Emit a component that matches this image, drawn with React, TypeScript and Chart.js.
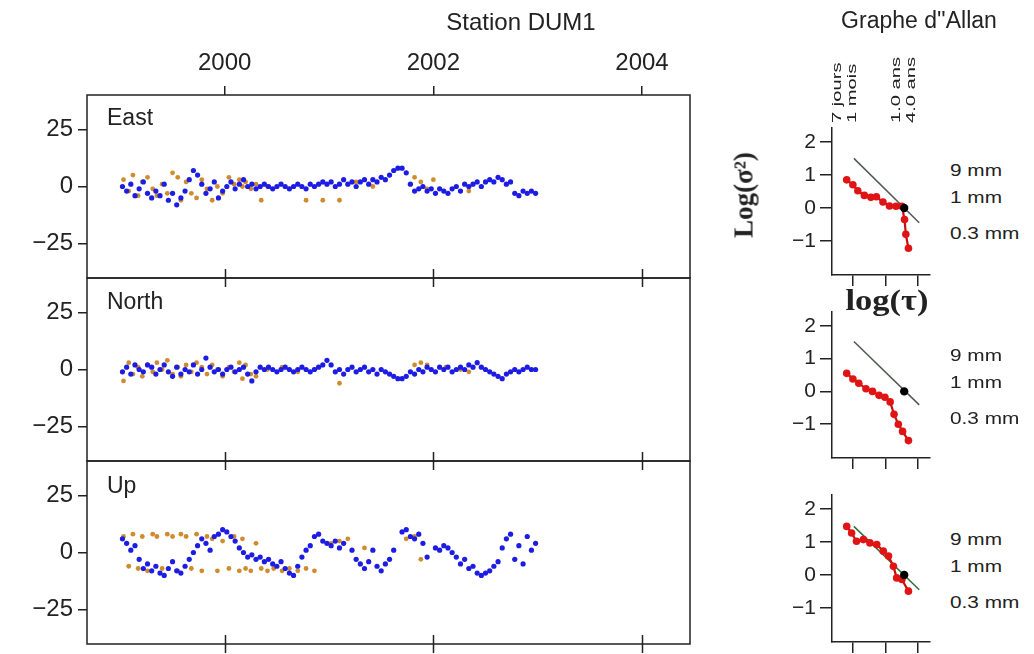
import React, { useEffect, useRef } from 'react';
import { Chart, registerables } from 'chart.js';

Chart.register(...registerables);

// ---------- Time series data (years, mm) ----------
const blueYears = [
  1999.02, 1999.06, 1999.10, 1999.14, 1999.18, 1999.22, 1999.26, 1999.30, 1999.34, 1999.38,
  1999.42, 1999.46, 1999.50, 1999.54, 1999.58, 1999.62, 1999.66, 1999.70, 1999.74, 1999.78,
  1999.82, 1999.86, 1999.90, 1999.94, 1999.98, 2000.02, 2000.06, 2000.10, 2000.14, 2000.18,
  2000.22, 2000.26, 2000.30, 2000.34, 2000.38, 2000.42, 2000.46, 2000.50, 2000.54, 2000.58,
  2000.62, 2000.66, 2000.70, 2000.74, 2000.78, 2000.82, 2000.86, 2000.90, 2000.94, 2000.98,
  2001.02, 2001.06, 2001.10, 2001.14, 2001.18, 2001.22, 2001.26, 2001.30, 2001.34, 2001.38,
  2001.42, 2001.46, 2001.50, 2001.54, 2001.58, 2001.62, 2001.66, 2001.70, 2001.74, 2001.78,
  2001.82, 2001.86, 2001.90, 2001.94, 2001.98, 2002.02, 2002.06, 2002.10, 2002.14, 2002.18,
  2002.22, 2002.26, 2002.30, 2002.34, 2002.38, 2002.42, 2002.46, 2002.50, 2002.54, 2002.58,
  2002.62, 2002.66, 2002.70, 2002.74, 2002.78, 2002.82, 2002.86, 2002.90, 2002.94, 2002.98,
];

const eastBlue = [
  0, -2, 1, -4, -1, 2, -3, -5, -2, -4,
  1, -6, -3, -8, -5, -2, 3, 7, 5, 1,
  -3, -1, 2, -5, -2, 0, 2, -1, 1, 3,
  0, 1, -1, 0, 1, 0, -1, 0, 1, 0,
  -1, 0, 1, 0, -1, 1, 0, 1, 2, 1,
  2, 0, 1, 3, 1, 2, 0, 2, 3, 1,
  3, 2, 4, 3, 5, 7, 8, 8, 6, 1,
  -2, -1, 0, -2, -1, -3, -1, -2, -3, -1,
  0, -2, 1, 0, 1, 2, 0, 2, 3, 2,
  4, 3, 1, 2, -3, -4, -2, -3, -2, -3,
];

const northBlue = [
  -1, 1, -2, 2, 0, -1, 2, 1, -2, 0,
  2, -1, -3, 1, -2, 0, -1, 2, -2, 0,
  5, 1, -1, 0, -2, 0, 1, -1, 0, 1,
  -2, -5, -1, 1, 0, 1, 0, -1, 0, 1,
  0, -1, 0, 1, 0, -1, 0, 1, 2, 4,
  2, -1, 0, -2, 0, 1, -1, 0, 1, -1,
  0, -2, 0, -1, -2, -3, -4, -4, -3, -1,
  -2, 0, -1, 1, 0, -1, 1, 0, 1, -1,
  0, 1, 0, 2, 1, 3, 1, 0, -1, -2,
  -3, -4, -2, -1, 0, -1, 0, 1, 0, 0,
];

const upBlue = [
  6, 4, 1, 3, -3, -7, -5, -8, -6, -9,
  -10, -7, -4, -8, -9, -6, -3, 0, 3, 6,
  4, 1, 7, 8, 10, 9, 7, 5, 2, 0,
  -2, -1, -3, -2, -4, -3, -5, -6, -4, -7,
  -9, -10, -6, -2, 1, 3, 7, 8, 5, 4,
  3, 5, 2, 4, null, 1, -3, -5, -7, -4,
  1, -6, -8, -5, -3, 1, null, 9, 10, 7,
  6, 8, 4, -2, null, 2, 1, 3, 2, 0,
  -2, -5, -3, -7, -6, -9, -10, -9, -8, -6,
  -4, 2, 6, 8, -3, 3, -5, 7, 1, 4,
];

const orangeYears = [
  1999.03, 1999.08, 1999.12, 1999.17, 1999.21, 1999.26, 1999.31, 1999.35, 1999.40, 1999.45,
  1999.50, 1999.55, 1999.58, 1999.63, 1999.68, 1999.73, 1999.78, 1999.83, 1999.88, 1999.93,
  1999.98, 2000.04, 2000.09, 2000.14, 2000.17, 2000.20, 2000.25, 2000.30, 2000.35, 2000.41,
  2000.47, 2000.55, 2000.62, 2000.70, 2000.78, 2000.86, 2000.94, 2001.02, 2001.10, 2001.18,
  2001.26, 2001.34, 2001.42, 2001.50, 2001.58, 2001.66, 2001.74, 2001.82, 2001.88, 2001.94,
  2002.00, 2002.06, 2002.12, 2002.18, 2002.26, 2002.34,
];

const eastOrange = [
  3, -2, 5, -4, 2, 4, -1, -4, 1, -3,
  6, 4, -6, 2, -3, -5, 3, -1, -6, 0,
  -3, 4, 1, 3, 0, 2, -1, 1, -6, 0,
  null, null, -1, null, -6, null, -6, null, -6, null,
  2, null, 0, null, null, null, null, 4, 2, -1,
  3, null, null, null, null, -2,
];

const northOrange = [
  -5, 3, -2, 1, -3, 2, -1, 3, 0, 4,
  -2, 1, -3, 2, -1, 3, 1, -2, 2, 0,
  -3, 1, -1, 3, -4, 2, -2, -3, null, 0,
  null, 1, null, -1, null, 0, null, null, -6, null,
  null, null, null, null, null, null, null, 2, 3, 2,
  null, null, 1, null, 0, -1,
];

const upOrange = [
  7, -6, 8, -7, 7, -8, 8, 7, -7, 8,
  7, -8, 8, 7, -7, 8, -8, 7, 6, -8,
  5, -7, 7, -8, 6, -7, -8, 4, -7, -8,
  -7, -8, -7, -8, -7, -8, null, 4, 5, 6,
  null, 2, null, null, null, null, 6, 7, -3, null,
  null, null, null, null, null, null,
];

const yearTicks = [2000, 2002, 2004];
const compTicks = [-25, 0, 25];

// ---------- Allan variance data (log tau, log sigma^2) ----------
const allanEastX = [0.81, 1.0, 1.15, 1.35, 1.55, 1.72, 1.92, 2.12, 2.32, 2.5, 2.58, 2.62, 2.7];
const allanEastY = [0.85, 0.7, 0.52, 0.38, 0.32, 0.34, 0.18, 0.06, 0.05, 0.05, -0.35, -0.8, -1.22];
const allanNorthX = [0.81, 1.0, 1.18, 1.4, 1.6, 1.8, 1.98, 2.14, 2.26, 2.39, 2.52, 2.7];
const allanNorthY = [0.55, 0.38, 0.25, 0.08, 0.0, -0.12, -0.18, -0.32, -0.7, -1.0, -1.22, -1.5];
const allanUpX = [0.81, 0.96, 1.11, 1.32, 1.52, 1.73, 1.93, 2.09, 2.24, 2.34, 2.5, 2.7];
const allanUpY = [1.47, 1.27, 1.02, 1.07, 0.97, 0.92, 0.72, 0.57, 0.26, -0.09, -0.14, -0.49];
const refLineX = [1.03, 3.03];
const refLineEastY = [1.5, -0.45];
const refLineNorthY = [1.52, -0.41];
const refLineUpY = [1.47, -0.45];
const refDotX = [2.57];
const refDotY = [0];
const allanYTicks = [-1, 0, 1, 2];
const allanXTicks = [1, 2, 3];
const allanTopLabels = ['7 jours', '1 mois', '1.0 ans', '4.0 ans'];
const allanTopPos = [0.52, 0.97, 2.32, 2.8];
const noiseLabels = ['9 mm', '1 mm', '0.3 mm'];

// ---------- styling ----------
const BLUE = '#1c1ce4';
const ORANGE = '#cf8b2c';
const RED = '#e01414';
const INK = '#222222';
const SANS = '"Liberation Sans", Arial, sans-serif';
const SERIF = '"Liberation Serif", "Times New Roman", serif';

const pts = (xs: number[], ys: (number | null)[]) =>
  xs.map((x, i) => ({ x, y: ys[i] })).filter((p) => p.y !== null);

const minusFmt = (v: any) => (Number(v) < 0 ? '\u2212' + Math.abs(Number(v)) : String(v));

const rFrame = {
  id: 'rFrame',
  afterDatasetsDraw(chart: any, _args: any, opts: any) {
    const { ctx, chartArea: a, scales } = chart;
    ctx.save();
    ctx.strokeStyle = INK;
    ctx.lineWidth = 1.5;
    ctx.strokeRect(a.left, a.top, a.right - a.left, a.bottom - a.top);
    const len = 9;
    ctx.beginPath();
    for (const t of yearTicks) {
      const px = Math.round(scales.x.getPixelForValue(t)) + 0.5;
      if (opts.topIn) { ctx.moveTo(px, a.top); ctx.lineTo(px, a.top + len); }
      if (opts.bottomIn) { ctx.moveTo(px, a.bottom); ctx.lineTo(px, a.bottom - len); }
      if (opts.bottomOut) { ctx.moveTo(px, a.bottom); ctx.lineTo(px, a.bottom + len); }
    }
    ctx.stroke();
    ctx.restore();
  },
};

const topLabels = {
  id: 'topLabels',
  afterDraw(chart: any, _args: any, opts: any) {
    if (!opts || !opts.show) return;
    const { ctx, scales, chartArea } = chart;
    ctx.save();
    ctx.fillStyle = INK;
    ctx.font = `13px ${SANS}`;
    allanTopLabels.forEach((lab, i) => {
      const px = scales.x.getPixelForValue(allanTopPos[i]);
      ctx.save();
      ctx.translate(px, chartArea.top - 5);
      ctx.rotate(-Math.PI / 2);
      ctx.scale(1.55, 1);
      ctx.textAlign = 'left';
      ctx.textBaseline = 'middle';
      ctx.fillText(lab, 0, 0);
      ctx.restore();
    });
    ctx.restore();
  },
};

const noPadY = (w: number) => (s: any) => {
  s.width = w;
  s.paddingTop = 0;
  s.paddingBottom = 0;
};

function leftConfig(blueV: (number | null)[], orangeV: (number | null)[], o: any) {
  return {
    type: 'scatter',
    data: {
      datasets: [
        { data: pts(blueYears, blueV), backgroundColor: BLUE, pointRadius: 2.6, borderWidth: 0, pointBorderWidth: 0 },
        { data: pts(orangeYears, orangeV), backgroundColor: ORANGE, pointRadius: 2.4, borderWidth: 0, pointBorderWidth: 0 },
      ],
    },
    options: {
      animation: false,
      responsive: false,
      events: [],
      layout: { padding: { top: o.padTop, bottom: o.padBottom, right: 10, left: 0 } },
      plugins: {
        legend: { display: false },
        tooltip: { enabled: false },
        rFrame: { topIn: o.topIn, bottomIn: true, bottomOut: o.bottomOut },
      },
      scales: {
        x: {
          type: 'linear',
          position: 'top',
          min: 1998.68,
          max: 2004.46,
          display: o.showTop,
          afterBuildTicks: (s: any) => { s.ticks = yearTicks.map((v) => ({ value: v })); },
          afterFit: (s: any) => { s.height = o.showTop ? 95 : 0; s.paddingLeft = 0; s.paddingRight = 0; },
          ticks: { color: INK, font: { family: SANS, size: 24 }, padding: 8, maxRotation: 0, callback: (v: any) => String(v) },
          grid: { drawOnChartArea: false, drawTicks: true, tickLength: 9, color: INK, lineWidth: 1.5 },
          border: { display: false },
        },
        y: {
          type: 'linear',
          min: -40,
          max: 40,
          afterBuildTicks: (s: any) => { s.ticks = compTicks.map((v) => ({ value: v })); },
          afterFit: noPadY(87),
          ticks: { color: INK, font: { family: SANS, size: 24 }, padding: 5, callback: minusFmt },
          grid: { drawOnChartArea: false, drawTicks: true, tickLength: 9, color: INK, lineWidth: 1.5 },
          border: { display: false },
        },
      },
    },
    plugins: [rFrame],
  } as any;
}

function allanConfig(xs: number[], ys: number[], refY: number[], o: any) {
  return {
    type: 'scatter',
    data: {
      datasets: [
        { data: pts(refDotX, refDotY), backgroundColor: '#000', pointRadius: 4.2, borderWidth: 0 },
        { data: pts(xs, ys), showLine: true, borderColor: '#c41010', borderWidth: 2.2, backgroundColor: RED, pointRadius: 3.8, pointBorderWidth: 0 },
        { data: pts(refLineX, refY), showLine: true, borderColor: o.lineColor, borderWidth: 1.5, pointRadius: 0 },
      ],
    },
    options: {
      animation: false,
      responsive: false,
      events: [],
      layout: { padding: { top: o.padTop, bottom: 0, right: 10, left: 0 } },
      plugins: {
        legend: { display: false },
        tooltip: { enabled: false },
        topLabels: { show: o.showTop },
      },
      scales: {
        x: {
          type: 'linear',
          min: 0.36,
          max: 3.36,
          afterBuildTicks: (s: any) => { s.ticks = allanXTicks.map((v) => ({ value: v })); },
          afterFit: (s: any) => { s.height = o.xHeight; s.paddingLeft = 0; s.paddingRight = 0; },
          ticks: { display: false },
          grid: { drawOnChartArea: false, drawTicks: true, tickLength: 11, color: INK, lineWidth: 1.5 },
          border: { display: true, color: INK, width: 1.5 },
        },
        y: {
          type: 'linear',
          min: -2.03,
          max: 2.42,
          afterBuildTicks: (s: any) => { s.ticks = allanYTicks.map((v) => ({ value: v })); },
          afterFit: noPadY(132),
          ticks: { color: INK, font: { family: SANS, size: 21 }, padding: 4, callback: minusFmt },
          grid: { drawOnChartArea: false, drawTicks: true, tickLength: 12, color: INK, lineWidth: 1.5 },
          border: { display: true, color: INK, width: 1.5 },
        },
      },
    },
    plugins: [topLabels],
  } as any;
}

const abs = (left: number, top: number): React.CSSProperties => ({ position: 'absolute', left, top });

export default function App() {
  const r1 = useRef<HTMLCanvasElement>(null);
  const r2 = useRef<HTMLCanvasElement>(null);
  const r3 = useRef<HTMLCanvasElement>(null);
  const a1 = useRef<HTMLCanvasElement>(null);
  const a2 = useRef<HTMLCanvasElement>(null);
  const a3 = useRef<HTMLCanvasElement>(null);

  useEffect(() => {
    const charts = [
      new Chart(r1.current!, leftConfig(eastBlue, eastOrange, { padTop: 0, padBottom: 8, showTop: true, topIn: false, bottomOut: false })),
      new Chart(r2.current!, leftConfig(northBlue, northOrange, { padTop: 8, padBottom: 8, showTop: false, topIn: true, bottomOut: false })),
      new Chart(r3.current!, leftConfig(upBlue, upOrange, { padTop: 8, padBottom: 10, showTop: false, topIn: true, bottomOut: true })),
      new Chart(a1.current!, allanConfig(allanEastX, allanEastY, refLineEastY, { padTop: 88, xHeight: 15, showTop: true, lineColor: '#4f5a4f' })),
      new Chart(a2.current!, allanConfig(allanNorthX, allanNorthY, refLineNorthY, { padTop: 12, xHeight: 15, showTop: false, lineColor: '#4f5a4f' })),
      new Chart(a3.current!, allanConfig(allanUpX, allanUpY, refLineUpY, { padTop: 10, xHeight: 12, showTop: false, lineColor: '#2f6e3c' })),
    ];
    return () => charts.forEach((c) => c.destroy());
  }, []);

  const txt: React.CSSProperties = { fontFamily: SANS, color: INK, whiteSpace: 'nowrap', lineHeight: 1 };
  const compLabel = (label: string, cy: number) => (
    <div style={{ ...abs(107, cy - 12), ...txt, fontSize: 23 }}>{label}</div>
  );
  const noise = (zeroY: number) => (
    <>
      <div style={{ ...abs(950, zeroY - 37 - 8), ...txt, fontSize: 16, transform: 'scaleX(1.3)', transformOrigin: 'left center' }}>{noiseLabels[0]}</div>
      <div style={{ ...abs(950, zeroY - 10 - 8), ...txt, fontSize: 16, transform: 'scaleX(1.3)', transformOrigin: 'left center' }}>{noiseLabels[1]}</div>
      <div style={{ ...abs(950, zeroY + 26 - 8), ...txt, fontSize: 16, transform: 'scaleX(1.3)', transformOrigin: 'left center' }}>{noiseLabels[2]}</div>
    </>
  );

  return (
    <div style={{ position: 'fixed', left: 0, top: 0, width: 1034, height: 654, background: '#fff', overflow: 'hidden' }}>
      <canvas ref={r1} width={700} height={286} style={abs(0, 0)} />
      <canvas ref={r2} width={700} height={199} style={abs(0, 270)} />
      <canvas ref={r3} width={700} height={201} style={abs(0, 453)} />
      <canvas ref={a1} width={240} height={250} style={abs(700, 40)} />
      <canvas ref={a2} width={240} height={173} style={abs(700, 300)} />
      <canvas ref={a3} width={240} height={169} style={abs(700, 485)} />

      <div style={{ ...abs(521, 22), ...txt, fontSize: 24, transform: 'translate(-50%, -50%)' }}>Station DUM1</div>
      <div style={{ ...abs(919, 20), ...txt, fontSize: 23, transform: 'translate(-50%, -50%)' }}>Graphe d''Allan</div>
      {compLabel('East', 118)}
      {compLabel('North', 302)}
      {compLabel('Up', 486)}
      <div style={{ ...abs(744, 195), fontFamily: SERIF, fontWeight: 'bold', fontSize: 27, color: INK, whiteSpace: 'nowrap', lineHeight: 1, transform: 'translate(-50%, -50%) rotate(-90deg)' }}>
        Log(σ²)
      </div>
      <div style={{ ...abs(887, 300), fontFamily: SERIF, fontWeight: 'bold', fontSize: 30, color: INK, whiteSpace: 'nowrap', lineHeight: 1, transform: 'translate(-50%, -50%) scaleX(1.15)' }}>
        log(τ)
      </div>
      {noise(208)}
      {noise(393)}
      {noise(577)}
    </div>
  );
}
